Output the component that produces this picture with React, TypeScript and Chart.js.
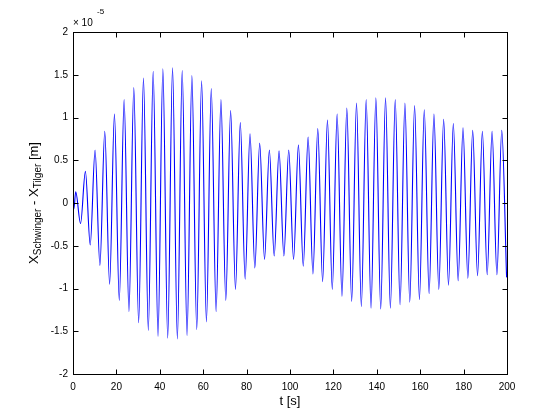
import React, { useEffect, useRef } from 'react';
import { Chart, registerables } from 'chart.js';

Chart.register(...registerables);

const FONT = '"Liberation Sans", Arial, Helvetica, sans-serif';

// start of the record [s] / [x 1e-5 m]
const startTimes = [0, 0.4];
const startValues = [0, -0.07];

// positive peaks of the oscillation
const peakTimes = [
    1.25, 5.71, 10.17, 14.64, 19.1, 23.56, 28.02, 32.48, 36.95, 41.41,
    45.87, 50.33, 54.79, 59.26, 63.72, 68.18, 72.64, 77.1, 81.57, 86.03,
    90.49, 94.95, 99.41, 103.88, 108.34, 112.8, 117.26, 121.72, 126.19, 130.65,
    135.11, 139.57, 144.03, 148.5, 152.96, 157.42, 161.88, 166.34, 170.81, 175.27,
    179.73, 184.19, 188.65, 193.12, 197.58,
];
const peakValues = [
    0.13, 0.37, 0.62, 0.84, 1.04, 1.21, 1.35, 1.46, 1.54, 1.57,
    1.58, 1.55, 1.49, 1.43, 1.34, 1.21, 1.08, 0.94, 0.81, 0.7,
    0.62, 0.61, 0.62, 0.68, 0.77, 0.87, 0.97, 1.04, 1.11, 1.17,
    1.21, 1.23, 1.23, 1.21, 1.17, 1.14, 1.09, 1.04, 0.98, 0.93,
    0.88, 0.85, 0.84, 0.84, 0.85,
];

// negative peaks of the oscillation
const troughTimes = [
    3.48, 7.94, 12.4, 16.87, 21.33, 25.79, 30.25, 34.71, 39.18, 43.64,
    48.1, 52.56, 57.02, 61.49, 65.95, 70.41, 74.87, 79.33, 83.8, 88.26,
    92.72, 97.18, 101.64, 106.11, 110.57, 115.03, 119.49, 123.95, 128.42, 132.88,
    137.34, 141.8, 146.26, 150.73, 155.19, 159.65, 164.11, 168.57, 173.04, 177.5,
    181.96, 186.42, 190.88, 195.35, 199.81,
];
const troughValues = [
    -0.24, -0.49, -0.73, -0.95, -1.14, -1.27, -1.4, -1.49, -1.56, -1.58,
    -1.59, -1.55, -1.48, -1.39, -1.27, -1.14, -1.01, -0.89, -0.76, -0.66,
    -0.62, -0.62, -0.66, -0.74, -0.83, -0.92, -1.01, -1.09, -1.15, -1.21,
    -1.23, -1.24, -1.23, -1.19, -1.16, -1.13, -1.06, -1.01, -0.96, -0.91,
    -0.88, -0.85, -0.84, -0.84, -0.87,
];

const xTickValues = [0, 20, 40, 60, 80, 100, 120, 140, 160, 180, 200];
const yTickValues = [-2, -1.5, -1, -0.5, 0, 0.5, 1, 1.5, 2];

const buildPoints = () => {
    const pts: { x: number; y: number }[] = [];
    startTimes.forEach((t, i) => pts.push({ x: t, y: startValues[i] }));
    peakTimes.forEach((t, i) => {
        pts.push({ x: t, y: peakValues[i] });
        pts.push({ x: troughTimes[i], y: troughValues[i] });
    });
    return pts;
};

// MATLAB style box with inward ticks, axis labels and exponent
const framePlugin = {
    id: 'matlabFrame',
    afterDraw(chart: any) {
        const { ctx, chartArea: a, scales } = chart;
        const xs = scales.x;
        const ys = scales.y;
        const L = Math.round(a.left) + 0.5;
        const R = Math.round(a.right) + 0.5;
        const T = Math.round(a.top) + 0.5;
        const B = Math.round(a.bottom) + 0.5;
        ctx.save();
        ctx.strokeStyle = '#000';
        ctx.lineWidth = 1;
        ctx.strokeRect(L, T, R - L, B - T);
        ctx.beginPath();
        xs.ticks.forEach((t: any) => {
            const px = Math.round(xs.getPixelForValue(t.value)) + 0.5;
            ctx.moveTo(px, B);
            ctx.lineTo(px, B - 5);
            ctx.moveTo(px, T);
            ctx.lineTo(px, T + 5);
        });
        ys.ticks.forEach((t: any) => {
            const py = Math.round(ys.getPixelForValue(t.value)) + 0.5;
            ctx.moveTo(L, py);
            ctx.lineTo(L + 5, py);
            ctx.moveTo(R, py);
            ctx.lineTo(R - 5, py);
        });
        ctx.stroke();

        ctx.fillStyle = '#000';
        // x label
        ctx.font = `13px ${FONT}`;
        ctx.textAlign = 'center';
        ctx.textBaseline = 'middle';
        ctx.fillText('t [s]', (a.left + a.right) / 2, 401);

        // y label with subscripts
        const parts = [
            { s: 'X', f: 13, dy: 0 },
            { s: 'Schwinger', f: 10, dy: 4 },
            { s: ' - X', f: 13, dy: 0 },
            { s: 'Tilger', f: 10, dy: 4 },
            { s: ' [m]', f: 13, dy: 0 },
        ];
        let total = 0;
        parts.forEach((p) => {
            ctx.font = `${p.f}px ${FONT}`;
            total += ctx.measureText(p.s).width;
        });
        ctx.translate(34, (a.top + a.bottom) / 2);
        ctx.rotate(-Math.PI / 2);
        ctx.textAlign = 'left';
        ctx.textBaseline = 'middle';
        let cx = -total / 2;
        parts.forEach((p) => {
            ctx.font = `${p.f}px ${FONT}`;
            ctx.fillText(p.s, cx, p.dy);
            cx += ctx.measureText(p.s).width;
        });
        ctx.setTransform(1, 0, 0, 1, 0, 0);

        // exponent
        ctx.textAlign = 'left';
        ctx.textBaseline = 'alphabetic';
        ctx.font = `10px ${FONT}`;
        ctx.fillText('\u00d7 10', a.left, 26);
        ctx.font = `8px ${FONT}`;
        ctx.fillText('-5', a.left + 24, 14);
        ctx.restore();
    },
};

const App: React.FC = () => {
    const canvasRef = useRef<HTMLCanvasElement>(null);

    useEffect(() => {
        const ctx = canvasRef.current?.getContext('2d');
        if (!ctx) return;
        const chart = new Chart(ctx, {
            type: 'line',
            data: {
                datasets: [
                    {
                        data: buildPoints(),
                        borderColor: '#0000ff',
                        borderWidth: 1.1,
                        pointRadius: 0,
                        fill: false,
                        cubicInterpolationMode: 'monotone',
                    },
                ],
            },
            options: {
                responsive: false,
                animation: false,
                devicePixelRatio: 1,
                layout: { padding: { left: 0, right: 53, top: 32, bottom: 0 } },
                plugins: { legend: { display: false }, tooltip: { enabled: false } },
                scales: {
                    x: {
                        type: 'linear',
                        min: 0,
                        max: 200,
                        grid: { display: false, drawTicks: false },
                        border: { display: false },
                        afterBuildTicks: (s: any) => {
                            s.ticks = xTickValues.map((v) => ({ value: v }));
                        },
                        afterFit: (s: any) => {
                            s.height = 46;
                        },
                        ticks: {
                            padding: 7,
                            color: '#000',
                            maxRotation: 0,
                            font: { family: FONT, size: 10 },
                            callback: (v: any) => String(v),
                        },
                    },
                    y: {
                        type: 'linear',
                        min: -2,
                        max: 2,
                        grid: { display: false, drawTicks: false },
                        border: { display: false },
                        afterBuildTicks: (s: any) => {
                            s.ticks = yTickValues.map((v) => ({ value: v }));
                        },
                        afterFit: (s: any) => {
                            s.width = 73;
                        },
                        ticks: {
                            padding: 5,
                            color: '#000',
                            font: { family: FONT, size: 10 },
                            callback: (v: any) => String(v),
                        },
                    },
                },
            },
            plugins: [framePlugin],
        });
        return () => chart.destroy();
    }, []);

    return (
        <div style={{ position: 'fixed', left: 0, top: 0, width: 560, height: 420, background: '#fff' }}>
            <canvas ref={canvasRef} width={560} height={420} />
        </div>
    );
};

export default App;
